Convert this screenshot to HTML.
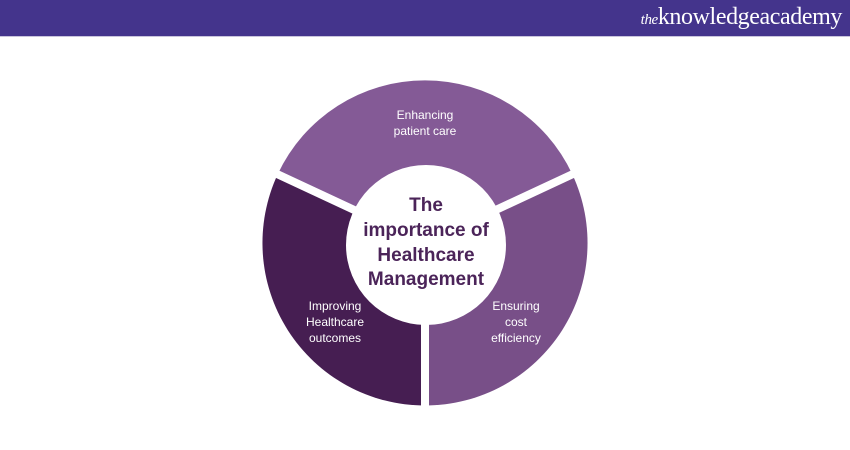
<!DOCTYPE html>
<html><head><meta charset="utf-8"><style>
html,body{margin:0;padding:0;background:#fff;width:850px;height:450px;overflow:hidden}
.hdr{position:absolute;left:0;top:0;width:850px;height:36px;background:#44348c;border-bottom:1px solid #c9c4dc}
.logo{position:absolute;right:8px;top:4px;color:#fff;font-family:"Liberation Serif",serif;font-size:24px;letter-spacing:-0.4px}
.logo i{font-size:15px}
</style></head><body>
<div class="hdr"><div class="logo"><i>the</i>knowledgeacademy</div></div>
<svg width="850" height="450" style="position:absolute;left:0;top:0" font-family="Liberation Sans, sans-serif">
<path d="M425,243 L277.7,174.3 A162.5,162.5 0 0 1 572.3,174.3 Z" fill="#845a96"/>
<path d="M425,243 L572.3,174.3 A162.5,162.5 0 0 1 425,405.5 Z" fill="#784f88"/>
<path d="M425,243 L425,405.5 A162.5,162.5 0 0 1 277.7,174.3 Z" fill="#461e52"/>
<g stroke="#fff" stroke-width="8">
<line x1="425" y1="243" x2="425" y2="412"/>
<line x1="425" y1="243" x2="262" y2="167"/>
<line x1="425" y1="243" x2="588" y2="167"/>
</g>
<circle cx="426" cy="245" r="80" fill="#fff"/>
<g fill="#fff" font-size="12" text-anchor="middle">
<text x="425" y="119">Enhancing</text>
<text x="425" y="135">patient care</text>
<text x="335" y="310">Improving</text>
<text x="335" y="326">Healthcare</text>
<text x="335" y="342">outcomes</text>
<text x="516" y="310">Ensuring</text>
<text x="516" y="326">cost</text>
<text x="516" y="342">efficiency</text>
</g>
<g fill="#4b2459" font-size="19" font-weight="bold" text-anchor="middle">
<text x="426" y="211">The</text>
<text x="426" y="236">importance of</text>
<text x="426" y="261">Healthcare</text>
<text x="426" y="285">Management</text>
</g>
</svg>
</body></html>
